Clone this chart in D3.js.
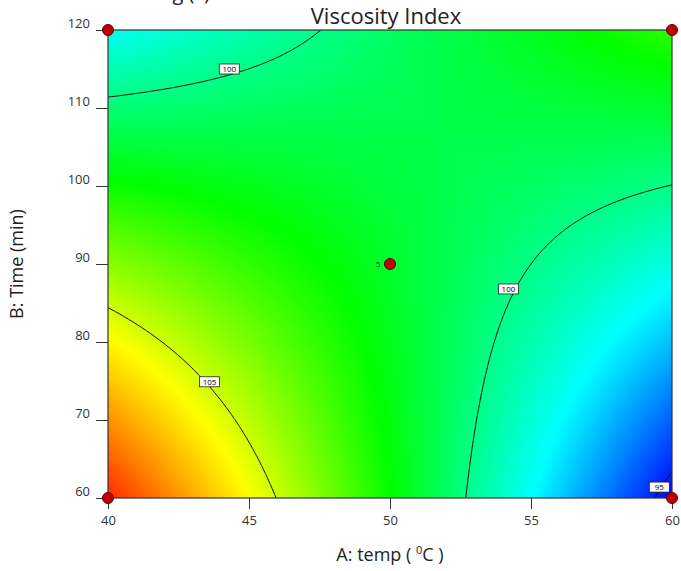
<!DOCTYPE html>
<html>
<head>
<meta charset="utf-8">
<title>Viscosity Index</title>
<script src="https://cdn.jsdelivr.net/npm/d3@7"></script>
<style>
  body { margin: 0; background: #fff; }
  text { font-family: "Open Sans", sans-serif; }
  .axis text { font-size: 13px; fill: #333; }
  .axis line { stroke: #333; }
  .clabel text { font-size: 8px; fill: #000; }
</style>
</head>
<body>
<script>
    /*=========DATA=========*/
    var tempTicks = [40, 45, 50, 55, 60];
    var timeTicks = [60, 70, 80, 90, 100, 110, 120];
    // fitted quadratic, coded units: intercept, A, B, AB, A^2, B^2
    var modelCoefs = [101.34, -2.665, -0.74, 4.775, -0.03, -0.08];
    var contourLevels = [95, 100, 105];
    // where the level labels sit (temp, time)
    var labelLevels = [100, 100, 105, 95];
    var labelTemp = [44.3, 54.2, 43.6, 59.55];
    var labelTime = [115, 86.8, 74.9, 61.4];
    // design points
    var designTemp = [40, 40, 60, 60, 50];
    var designTime = [60, 120, 60, 120, 90];
    var designReps = [1, 1, 1, 1, 5];

    /*=====SIZE SVG======*/
    var svgWidth = 681, svgHeight = 571;
    var margin = { top: 30, right: 9, bottom: 73, left: 108 };
    var width = svgWidth - margin.left - margin.right;
    var height = svgHeight - margin.top - margin.bottom;

    var x = d3.scaleLinear().domain([40, 60]).range([0, width]);
    var y = d3.scaleLinear().domain([60, 120]).range([height, 0]);

    function model(t, m) {
        var a = (t - 50) / 10, b = (m - 90) / 30, c = modelCoefs;
        return c[0] + c[1] * a + c[2] * b + c[3] * a * b + c[4] * a * a + c[5] * b * b;
    }

    // grid a bit wider than the plot so the edge rings fall outside the clip
    var nx = 141, ny = 141;
    var t0 = 39, t1 = 61, m0 = 57, m1 = 123;
    var dt = (t1 - t0) / (nx - 1), dm = (m1 - m0) / (ny - 1);
    var values = new Array(nx * ny);
    for (var j = 0; j < ny; j++) {
        for (var i = 0; i < nx; i++) {
            values[j * nx + i] = model(t0 + i * dt, m0 + j * dm);
        }
    }
    var proj = d3.geoTransform({
        point: function (u, v) {
            this.stream.point(x(t0 + (u - 0.5) * dt), y(m0 + (v - 0.5) * dm));
        }
    });
    var path = d3.geoPath(proj);

    // colour range from the plotted region only
    var inside = [];
    for (var tt = 40; tt <= 60.001; tt += 0.5) {
        for (var mm = 60; mm <= 120.001; mm += 1) inside.push(model(tt, mm));
    }
    var vMin = d3.min(inside), vMax = d3.max(inside);
    var color = d3.scaleLinear()
        .domain([0, 0.25, 0.5, 0.75, 1].map(function (f) { return vMin + f * (vMax - vMin); }))
        .range(["#0000ff", "#00ffff", "#00ff00", "#ffff00", "#ff2a00"])
        .clamp(true);

    var svg = d3.select("body").append("svg")
        .attr("width", svgWidth).attr("height", svgHeight);

    // cut-off caption at the very top
    svg.append("text").attr("x", 210).attr("y", 0).attr("text-anchor", "end")
        .attr("font-size", 20).attr("fill", "#222").text("Fig (c)");

    svg.append("text").attr("x", margin.left + width / 2 - 4).attr("y", 24)
        .attr("text-anchor", "middle").attr("font-size", 22).attr("fill", "#222")
        .text("Viscosity Index");

    svg.append("clipPath").attr("id", "plotClip")
        .append("rect").attr("width", width).attr("height", height);

    var focus = svg.append("g")
        .attr("transform", "translate(" + margin.left + "," + margin.top + ")");

    var plot = focus.append("g").attr("clip-path", "url(#plotClip)");

    // filled bands
    var step = 0.08;
    var gMin = d3.min(values), gMax = d3.max(values);
    var fillLevels = d3.range(gMin - 0.01, gMax, step);
    var bands = d3.contours().size([nx, ny]).thresholds(fillLevels)(values);
    plot.selectAll("path.band").data(bands).enter().append("path")
        .attr("class", "band")
        .attr("d", path)
        .attr("fill", function (d) { return color(d.value + step / 2); })
        .attr("stroke", function (d) { return color(d.value + step / 2); })
        .attr("stroke-width", 0.3);

    // level lines
    var lines = d3.contours().size([nx, ny]).thresholds(contourLevels)(values);
    plot.selectAll("path.level").data(lines).enter().append("path")
        .attr("class", "level")
        .attr("d", path)
        .attr("fill", "none")
        .attr("stroke", "#111")
        .attr("stroke-width", 1);

    // level labels
    var labels = plot.selectAll("g.clabel").data(labelLevels).enter().append("g")
        .attr("class", "clabel")
        .attr("transform", function (d, i) {
            return "translate(" + x(labelTemp[i]) + "," + y(labelTime[i]) + ")";
        });
    labels.append("rect").attr("x", -10).attr("y", -5).attr("width", 20).attr("height", 10)
        .attr("fill", "#fff").attr("stroke", "#222").attr("stroke-width", 0.8);
    labels.append("text").attr("text-anchor", "middle").attr("dy", "0.35em")
        .text(function (d) { return d; });

    // frame
    focus.append("rect").attr("width", width).attr("height", height)
        .attr("fill", "none").attr("stroke", "#333").attr("stroke-width", 1.2);

    // axes
    var xAxis = d3.axisBottom(x).tickValues(tempTicks).tickSize(11).tickPadding(7);
    var yAxis = d3.axisLeft(y).tickValues(timeTicks).tickSize(12).tickPadding(6);
    var gx = focus.append("g").attr("class", "axis")
        .attr("transform", "translate(0," + height + ")").call(xAxis);
    var gy = focus.append("g").attr("class", "axis").call(yAxis);
    gx.select(".domain").remove();
    gy.select(".domain").remove();
    gx.selectAll("text").attr("font-family", null).attr("font-size", null);
    gy.selectAll("text").attr("font-family", null).attr("font-size", null)
        .attr("x", -18).attr("y", -7);

    // design points
    var pts = focus.selectAll("g.pt").data(designTemp).enter().append("g")
        .attr("class", "pt")
        .attr("transform", function (d, i) {
            return "translate(" + x(d) + "," + y(designTime[i]) + ")";
        });
    pts.append("circle").attr("r", 5.5)
        .attr("fill", "#c00000").attr("stroke", "#500").attr("stroke-width", 1);
    pts.filter(function (d, i) { return designReps[i] > 1; })
        .append("text").attr("x", -12).attr("dy", "0.35em").attr("text-anchor", "middle")
        .attr("font-size", 8).attr("fill", "#222")
        .text(function (d) { return designReps[designTemp.indexOf(d)]; });

    // axis titles
    var xt = svg.append("text").attr("x", margin.left + width / 2).attr("y", 561)
        .attr("text-anchor", "middle").attr("font-size", 18).attr("fill", "#222");
    xt.append("tspan").text("A: temp ( ");
    xt.append("tspan").attr("font-size", 11).attr("dy", -7).text("0");
    xt.append("tspan").attr("dy", 7).text("C )");

    svg.append("text")
        .attr("transform", "translate(23," + (margin.top + height / 2) + ") rotate(-90)")
        .attr("text-anchor", "middle").attr("font-size", 18).attr("fill", "#222")
        .text("B: Time (min)");
</script>
</body>
</html>
